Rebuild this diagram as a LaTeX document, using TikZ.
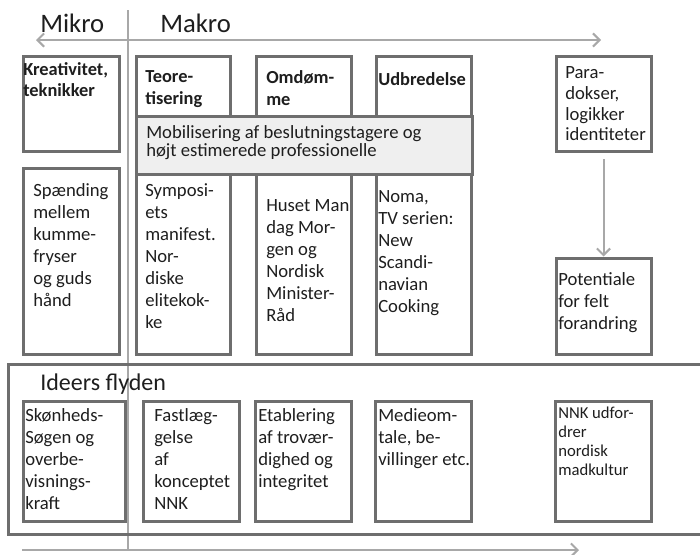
\documentclass[tikz,border=0pt]{standalone}
\usepackage{fontspec}
\setmainfont{Carlito}
\usetikzlibrary{fit,arrows.meta}
\definecolor{boxgray}{HTML}{6E6E6E}
\definecolor{linegray}{HTML}{A8A8A8}
\definecolor{fillgray}{HTML}{EFEFEF}
\definecolor{txtc}{HTML}{1E1E1E}
\begin{document}
\begin{tikzpicture}[x=0.75pt,y=-0.75pt,
  box/.style={draw=boxgray,line width=2.25pt,inner sep=0pt},
  graybox/.style={box,fill=fillgray},
  txt/.style={anchor=north west,inner sep=0pt,align=left,text=txtc,
    font=\fontsize{14}{16.5}\selectfont,execute at begin node=\strut},
  boldtxt/.style={txt,font=\fontsize{13.8}{16.5}\selectfont\bfseries},
  smalltxt/.style={txt,font=\fontsize{12.5}{14.25}\selectfont},
  title/.style={anchor=base west,inner sep=0pt,text=txtc,font=\fontsize{20}{24}\selectfont},
  guide/.style={draw=linegray,line width=1.5pt},
  arr/.style={guide,-{Straight Barb[length=5pt,width=10pt,line width=1.5pt]}},
  darr/.style={guide,{Straight Barb[length=5pt,width=10pt,line width=1.5pt]}-{Straight Barb[length=5pt,width=10pt,line width=1.5pt]}}
]
\useasboundingbox (0,0) rectangle (700,554);
\clip (0,0) rectangle (700,554);

% guide lines
\coordinate (vtop) at (128,10);
\coordinate (vbot) at (128,550);
\coordinate (tl) at (36,40);
\coordinate (tr) at (601,40);
\coordinate (bl) at (22,550);
\coordinate (br) at (579,550);
\draw[guide] (vtop) -- (vbot);
\draw[darr] (tl) -- (tr);
\draw[arr] (bl) -- (br);

% titles
\node[title] (mikro) at (40,32) {Mikro};
\node[title] (makro) at (160,32) {Makro};

% top row boxes
\node[box,fit={(23,56) (119,151)}] (kre) {};
\node[box,fit={(136,56) (230,354)}] (col1) {};
\node[box,fit={(256,56) (351,354)}] (col2) {};
\node[box,fit={(376,56) (471,354)}] (col3) {};
\node[box,fit={(556,56) (651,151)}] (para) {};
\node[box,fit={(23,168) (119,354)}] (spa) {};
\node[box,fit={(556,258) (651,354)}] (pot) {};
\node[graybox,fit={(136,116) (472,174)}] (mob) {};

\draw[arr,shorten <=5pt] (para.south) -- (pot.north);

\node[boldtxt,font=\fontsize{13.8}{15.75}\selectfont\bfseries] (tkre) at (23,62.5) {Kreativitet,\\teknikker};
\node[boldtxt] (tteo) at (145,70) {Teore-\\tisering};
\node[boldtxt] (tomd) at (266,70) {Omdøm-\\me};
\node[boldtxt] (tudb) at (378,70) {Udbredelse};
\node[txt,font=\fontsize{14}{15.5}\selectfont] (tpara) at (565,66.5) {Para-\\dokser,\\logikker\\identiteter};
\node[txt,font=\fontsize{14}{13.5}\selectfont] (tmob) at (146,125.5) {Mobilisering af beslutningstagere og\\højt estimerede professionelle};
\node[txt] (tspa) at (33,183) {Spænding\\mellem\\kumme-\\fryser\\og guds\\hånd};
\node[txt] (tsym) at (145,183) {Symposi-\\ets\\manifest.\\Nor-\\diske\\elitekok-\\ke};
\node[txt] (thus) at (266,199) {Huset Man\\dag Mor-\\gen og\\Nordisk\\Minister-\\Råd};
\node[txt] (tnom) at (378,190) {Noma,\\TV serien:\\New\\Scandi-\\navian\\Cooking};
\node[txt] (tpot) at (558,272) {Potentiale\\for felt\\forandring};

% bottom frame
\node[box,fit={(8,364) (720,534)}] (flow) {};
\node[title,font=\fontsize{18}{22}\selectfont] (tflow) at (40,390) {Ideers flyden};
\node[box,fit={(23,401) (125,521)}] (sk) {};
\node[box,fit={(143,401) (239,521)}] (fa) {};
\node[box,fit={(255,401) (351,521)}] (et) {};
\node[box,fit={(375,401) (471,521)}] (me) {};
\node[box,fit={(555,401) (651,521)}] (nnk) {};
\node[txt] (tsk) at (25,408) {Skønheds-\\Søgen og\\overbe-\\visnings-\\kraft};
\node[txt] (tfa) at (154,408) {Fastlæg-\\gelse\\af\\konceptet\\NNK};
\node[txt] (tet) at (258,408) {Etablering\\af trovær-\\dighed og\\integritet};
\node[txt] (tme) at (378,408) {Medieom-\\tale, be-\\villinger etc.};
\node[smalltxt] (tnnk) at (558,407) {NNK udfor-\\drer\\nordisk\\madkultur};
\end{tikzpicture}
\end{document}
